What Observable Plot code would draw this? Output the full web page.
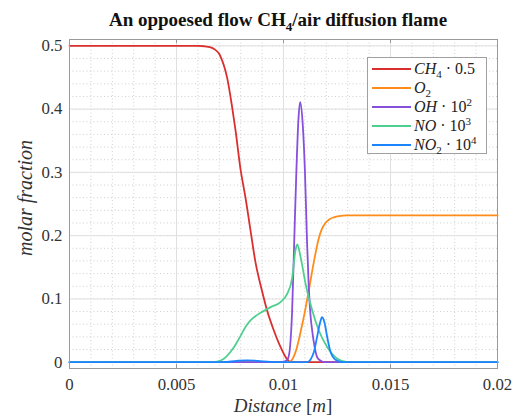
<!DOCTYPE html>
<html><head><meta charset="utf-8">
<script src="https://cdn.jsdelivr.net/npm/d3@7"></script>
<script src="https://cdn.jsdelivr.net/npm/@observablehq/plot@0.6"></script>
<style>
body{margin:0;background:#fff;}
#chart svg{display:block;}
</style>
</head><body><div id="chart"></div>
<script>
// ---- data (values as plotted, already scaled) ----
const seriesNames = ["CH4", "O2", "OH", "NO", "NO2"];
const seriesColors = ["#d9302f", "#ff8c1a", "#8650dc", "#4fcf8f", "#1a85ff"];

const ch4X = [0, 0.006, 0.0063, 0.0066, 0.0068, 0.0070, 0.00713, 0.00725, 0.00737, 0.0076, 0.00776, 0.008, 0.00822, 0.00846, 0.00869, 0.009, 0.00923, 0.00955, 0.00986, 0.01014, 0.0103, 0.0106, 0.02];
const ch4Y = [0.5, 0.4998, 0.4993, 0.4975, 0.494, 0.487, 0.477, 0.465, 0.449, 0.403, 0.366, 0.303, 0.261, 0.208, 0.158, 0.112, 0.082, 0.050, 0.024, 0.006, 0.0005, 0, 0];

const o2X = [0, 0.01025, 0.0104, 0.0106, 0.0108, 0.0110, 0.01118, 0.0114, 0.01165, 0.0118, 0.01196, 0.01215, 0.01235, 0.0126, 0.01297, 0.0135, 0.02];
const o2Y = [0, 0, 0.004, 0.020, 0.048, 0.080, 0.113, 0.155, 0.196, 0.211, 0.220, 0.226, 0.229, 0.231, 0.232, 0.232, 0.232];

const ohX = [0, 0.0099, 0.0101, 0.0102, 0.0103, 0.0104, 0.0105, 0.0106, 0.0107, 0.01078, 0.0109, 0.0110, 0.0111, 0.01118, 0.01126, 0.01134, 0.01145, 0.01157, 0.0117, 0.0119, 0.02];
const ohY = [0, 0, 0.002, 0.005, 0.022, 0.078, 0.190, 0.300, 0.385, 0.411, 0.375, 0.303, 0.190, 0.119, 0.075, 0.050, 0.025, 0.008, 0.003, 0, 0];

const noX = [0, 0.0066, 0.0069, 0.0072, 0.00752, 0.0078, 0.008, 0.00823, 0.00846, 0.0087, 0.00893, 0.0094, 0.00986, 0.01017, 0.0104, 0.01056, 0.01064, 0.0108, 0.01103, 0.01134, 0.01165, 0.01204, 0.0125, 0.013, 0.02];
const noY = [0, 0, 0.001, 0.005, 0.016, 0.030, 0.042, 0.056, 0.066, 0.073, 0.078, 0.087, 0.095, 0.108, 0.132, 0.177, 0.186, 0.166, 0.124, 0.082, 0.050, 0.024, 0.006, 0, 0];

const no2X = [0, 0.0072, 0.0078, 0.0083, 0.0088, 0.0094, 0.0100, 0.0111, 0.01126, 0.01142, 0.01157, 0.0117, 0.0118, 0.01192, 0.01204, 0.0122, 0.01243, 0.0128, 0.02];
const no2Y = [0, 0, 0.002, 0.003, 0.002, 0.0005, 0, 0, 0.004, 0.016, 0.040, 0.061, 0.071, 0.062, 0.040, 0.016, 0.004, 0, 0];

const xTicks = [0, 0.005, 0.01, 0.015, 0.02];
const xTickLabels = ["0", "0.005", "0.01", "0.015", "0.02"];
const yTicks = [0, 0.1, 0.2, 0.3, 0.4, 0.5];
const yTickLabels = ["0", "0.1", "0.2", "0.3", "0.4", "0.5"];
const xMinor = d3.range(1, 20).map(i => i / 1000);
const yMinor = d3.range(0, 26).map(i => i / 50);

// ---- build table ----
const allX = [ch4X, o2X, ohX, noX, no2X];
const allY = [ch4Y, o2Y, ohY, noY, no2Y];
const rows = [];
seriesNames.forEach((s, k) => allX[k].forEach((x, i) => rows.push({series: s, x, y: allY[k][i]})));

const W = 517, H = 418;
const mL = 69, mR = 20, mT = 39, mB = 50;
const plotH = H - mT - mB;
const serif = "'Liberation Serif', 'Times New Roman', serif";

const chart = Plot.plot({
  width: W, height: H,
  marginLeft: mL, marginRight: mR, marginTop: mT, marginBottom: mB,
  style: {fontFamily: serif, fontSize: "16.8px", color: "#333", background: "#fff"},
  x: {domain: [0, 0.02]},
  y: {domain: [-0.01, 0.51]},
  color: {domain: seriesNames, range: seriesColors},
  marks: [
    Plot.ruleX(xMinor, {x: d => d, stroke: "#cfcfcf", strokeDasharray: "1,2.5"}),
    Plot.ruleY(yMinor, {y: d => d, stroke: "#cfcfcf", strokeDasharray: "1,2.5"}),
    Plot.ruleX(xTicks, {x: d => d, stroke: "#e0e0e0"}),
    Plot.ruleY(yTicks, {y: d => d, stroke: "#e0e0e0"}),
    Plot.axisX({ticks: xTicks, tickSize: 0, tickPadding: 10, label: null,
      tickFormat: d => xTickLabels[xTicks.indexOf(d)]}),
    Plot.axisY({ticks: yTicks, tickSize: 0, tickPadding: 7, label: null,
      tickFormat: d => yTickLabels[yTicks.indexOf(d)]}),
    Plot.line(rows, {x: "x", y: "y", z: "series", stroke: "series", curve: "monotone-x", strokeWidth: 1.8}),
    Plot.frame({stroke: "#9a9a9a"}),
    Plot.ruleX(xTicks, {x: d => d, stroke: "#9a9a9a", insetTop: plotH - 4}),
    Plot.ruleX(xTicks, {x: d => d, stroke: "#9a9a9a", insetBottom: plotH - 4}),
  ]
});
document.getElementById("chart").appendChild(chart);

const svg = d3.select(chart);
// serif tick labels
svg.selectAll("text").style("font-family", serif).style("font-size", "16.8px").style("fill", "#333");

// ---- title, axis labels, legend ----
const title = svg.append("text")
  .attr("x", 278).attr("y", 26).attr("text-anchor", "middle")
  .style("font-family", serif).style("font-weight", "bold").style("font-size", "19px").style("fill", "#111");
title.append("tspan").text("An oppoesed flow CH");
title.append("tspan").attr("dy", 5).style("font-size", "13px").text("4");
title.append("tspan").attr("dy", -5).text("/air diffusion flame");

const xl = svg.append("text").attr("x", 283).attr("y", 412).attr("text-anchor", "middle")
  .style("font-family", serif).style("font-size", "19px").style("fill", "#333");
xl.append("tspan").style("font-style", "italic").text("Distance ");
xl.append("tspan").text("[");
xl.append("tspan").style("font-style", "italic").text("m");
xl.append("tspan").text("]");

svg.append("text").attr("transform", "translate(32,198) rotate(-90)").attr("text-anchor", "middle")
  .style("font-family", serif).style("font-size", "20px").style("font-style", "italic").style("fill", "#333")
  .text("molar fraction");

// legend
const lg = svg.append("g").attr("text-anchor", "start");
lg.append("rect").attr("x", 367.5).attr("y", 57.5).attr("width", 119).attr("height", 96)
  .attr("fill", "#fff").attr("stroke", "#a0a0a0");
const legendParts = [
  [["CH", "i"], ["4", "sub"], [" · 0.5", "n"]],
  [["O", "i"], ["2", "sub"]],
  [["OH", "i"], [" · 10", "n"], ["2", "sup"]],
  [["NO", "i"], [" · 10", "n"], ["3", "sup"]],
  [["NO", "i"], ["2", "sub"], [" · 10", "n"], ["4", "sup"]],
];
legendParts.forEach((parts, k) => {
  const cy = 69 + k * 19;
  lg.append("line").attr("x1", 372).attr("x2", 411).attr("y1", cy).attr("y2", cy)
    .attr("stroke", seriesColors[k]).attr("stroke-width", 1.8);
  const t = lg.append("text").attr("x", 414).attr("y", cy + 5).attr("text-anchor", "start")
    .style("font-family", serif).style("font-size", "16px").style("fill", "#222");
  let shift = 0;
  parts.forEach(([s, kind]) => {
    const ts = t.append("tspan").text(s);
    let target = 0;
    if (kind === "i") ts.style("font-style", "italic");
    if (kind === "sub") { target = 4; ts.style("font-size", "11px"); }
    if (kind === "sup") { target = -6; ts.style("font-size", "11px"); }
    ts.attr("dy", target - shift);
    shift = target;
  });
});
</script></body></html>
